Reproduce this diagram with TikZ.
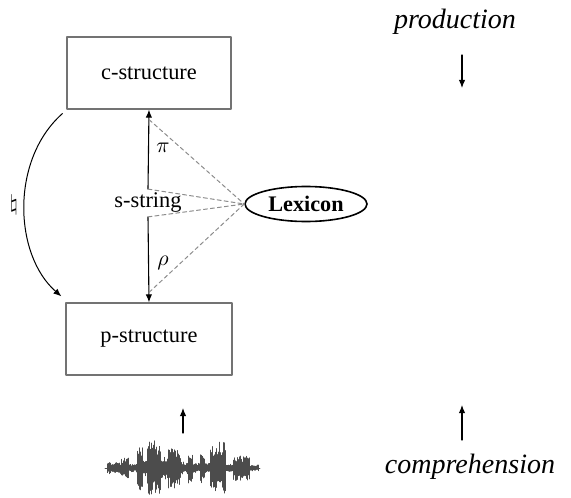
\documentclass[tikz,border=0pt]{standalone}
\usepackage{fontspec}
\setmainfont{Liberation Serif}
\usetikzlibrary{arrows.meta,shapes.geometric}

\begin{document}
\begin{tikzpicture}[x=0.5pt,y=-0.5pt,line cap=round,line join=round,
  box/.style={draw=black!55,line width=0.6pt,minimum height=36pt,inner sep=0pt,font=\fontsize{11.2}{13}\selectfont},
  arr/.style={line width=0.55pt,-{Latex[length=4pt,width=3.2pt]}},
  lexline/.style={draw=black!45,line width=0.5pt,dash pattern=on 2pt off 1.5pt},
  wave/.style={line width=0.4pt,black!70},
  mode/.style={font=\fontsize{14}{16}\selectfont\itshape}]
  \useasboundingbox (0,0) rectangle (571,497);
  % the three levels
  \node[box,minimum width=82pt] (cstr) at (149,73) {c-structure};
  \node[box,minimum width=83pt] (pstr) at (149,339) {p-structure};
  \node[inner sep=0pt,minimum height=13.5pt,font=\fontsize{11.2}{13}\selectfont] (sstr) at (148,203) {s-string};
  \node[draw,ellipse,line width=0.8pt,minimum width=61pt,minimum height=17.5pt,inner sep=0pt,
    font=\fontsize{11.1}{13}\selectfont\bfseries] (lex) at (306,204) {Lexicon};
  % mappings
  \draw[arr] (sstr.north) -- (cstr.south);
  \draw[arr] (sstr.south) -- (pstr.north);
  \node[font=\fontsize{11.2}{13}\selectfont] (pi) at (163,148) {$\pi$};
  \node[font=\fontsize{11.2}{13}\selectfont] (rho) at (163,263) {$\rho$};
  \draw[lexline] ([yshift=-5]cstr.south) -- (lex.west);
  \draw[lexline] (sstr.north) -- (lex.west);
  \draw[lexline] (sstr.south) -- (lex.west);
  \draw[lexline] ([yshift=5]pstr.north) -- (lex.west);
  \draw[line width=0.5pt,-{Latex[length=4pt,width=3.2pt]}]
    ([shift={(-4,4)}]cstr.south west) .. controls (10,160) and (14,255) .. ([shift={(-4,-6)}]pstr.north west);
  \node[font=\fontsize{11.2}{13}\selectfont] (nat) at (14,205) {$\natural$};
  % production / comprehension
  \node[mode] (prod) at (455,22) {production};
  \coordinate (prodA) at (462,55);
  \coordinate (prodB) at (462,88);
  \draw[arr] (prodA) -- (prodB);
  \node[mode] (comp) at (470,467) {comprehension};
  \coordinate (compA) at (462,440);
  \coordinate (compB) at (462,405);
  \draw[arr] (compA) -- (compB);
  % speech signal
  \coordinate (wave) at (183,468);
  \coordinate (waveA) at (183,433);
  \coordinate (waveB) at (183,408);
  \draw[arr] (waveA) -- (waveB);
  \draw[wave] (105,468) -- (260,468);
  \pgfmathsetseed{11}
  \foreach \a/\b/\h in {107/120/6,121/128/10,129/136/4,137/142/24,143/146/8,147/160/29,
    161/166/11,167/180/20,181/187/6,188/192/17,193/199/5,200/204/15,205/209/5,
    210/225/26,226/232/4,233/249/13,250/258/3}{
    \foreach \x in {\a,...,\b}{
      \pgfmathsetmacro{\up}{\h*(0.2+0.8*rnd*rnd)}
      \pgfmathsetmacro{\dn}{\h*(0.2+0.8*rnd*rnd)}
      \draw[wave] (\x,468-\up) -- (\x,468+\dn);
      \pgfmathsetmacro{\up}{\h*(0.45+0.55*rnd)}
      \pgfmathsetmacro{\dn}{\h*(0.45+0.55*rnd)}
      \draw[wave] (\x+0.5,468-\up) -- (\x+0.5,468+\dn);
    }
  }
\end{tikzpicture}
\end{document}
